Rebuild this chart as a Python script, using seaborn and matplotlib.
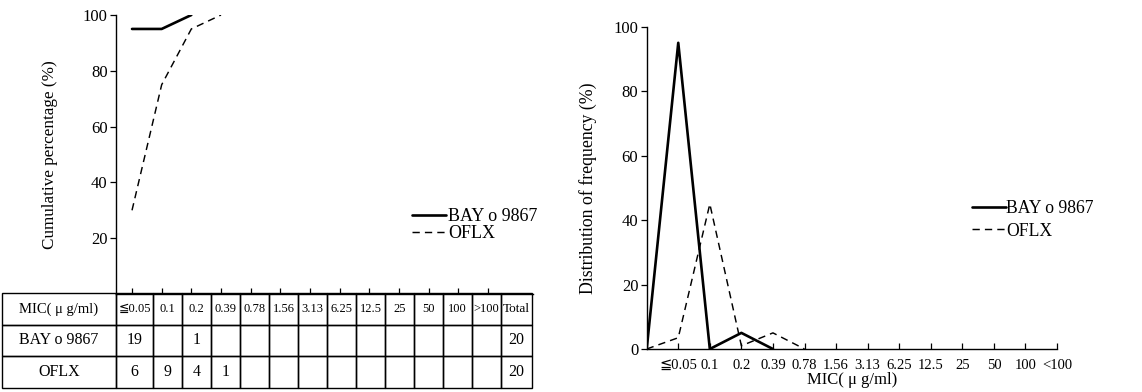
import matplotlib
matplotlib.use("Agg")
import matplotlib.pyplot as plt
import seaborn as sns
import numpy as np
import pandas as pd

sns.set_theme(style="ticks")
plt.rcParams['font.family'] = ['Liberation Serif', 'DejaVu Serif', 'DejaVu Sans']
plt.rcParams['axes.edgecolor'] = 'black'
plt.rcParams['xtick.color'] = 'black'
plt.rcParams['ytick.color'] = 'black'
plt.rcParams['text.color'] = 'black'
plt.rcParams['axes.labelcolor'] = 'black'

# ---- data ----
mic_labels_table = ["≦0.05", "0.1", "0.2", "0.39", "0.78", "1.56", "3.13",
                    "6.25", "12.5", "25", "50", "100", ">100"]
mic_labels_axis = ["≦0.05", "0.1", "0.2", "0.39", "0.78", "1.56", "3.13",
                   "6.25", "12.5", "25", "50", "100", "<100"]
drugs = ["BAY o 9867", "OFLX"]
bay_counts = ["19", "", "1", "", "", "", "", "", "", "", "", "", ""]
oflx_counts = ["6", "9", "4", "1", "", "", "", "", "", "", "", "", ""]
totals = ["20", "20"]

bay_cum = [95, 95, 100]
oflx_cum = [30, 75, 95, 100]

bay_freq = [0, 95, 0, 5, 0]
oflx_freq = [0, 3.5, 45, 1, 5, 0]

W, H = 1142, 392
fig = plt.figure(figsize=(W / 100, H / 100), dpi=100)

def fx(px):
    return px / W

def fy(py):
    return (H - py) / H

solid_kw = dict(color='black', linewidth=1.9)
dash_kw = dict(color='black', linewidth=1.05, linestyle=(0, (5, 3.5)))

# ---------------- left: cumulative ----------------
axL = fig.add_axes([fx(116), fy(294), fx(533) - fx(116), fy(15) - fy(294)])
bay_cum_df = pd.DataFrame({"x": np.arange(len(bay_cum)), "y": bay_cum})
oflx_cum_df = pd.DataFrame({"x": np.arange(len(oflx_cum)), "y": oflx_cum})
sns.lineplot(data=bay_cum_df, x="x", y="y", ax=axL, label=drugs[0], **solid_kw)
sns.lineplot(data=oflx_cum_df, x="x", y="y", ax=axL, label=drugs[1], **dash_kw)
axL.set_xlim(-0.54, 13.52)
axL.set_ylim(0, 100)
axL.set_yticks([20, 40, 60, 80, 100])
axL.set_yticklabels(["20", "40", "60", "80", "100"], fontsize=12)
axL.set_xticks(np.arange(len(mic_labels_table)))
axL.set_xticklabels([])
axL.tick_params(axis='x', direction='in', length=4, width=0.9)
axL.tick_params(axis='y', direction='out', length=4, width=0.9, pad=2)
for s in ['top', 'right']:
    axL.spines[s].set_visible(False)
axL.spines['left'].set_linewidth(1.0)
axL.spines['bottom'].set_linewidth(1.0)
axL.set_xlabel("")
axL.set_ylabel("Cumulative percentage (%)", fontsize=12.3, labelpad=18)
axL.yaxis.label.set_position((0, (fy(155) - fy(294)) / (fy(15) - fy(294))))
legL = axL.legend(loc='center left', bbox_to_anchor=(fx(412), fy(225)),
                  bbox_transform=fig.transFigure, frameon=False, fontsize=13,
                  handlelength=1.9, handletextpad=0.1, labelspacing=0.0,
                  borderpad=0, borderaxespad=0)

# ---------------- table ----------------
axT = fig.add_axes([fx(2), fy(388), fx(532) - fx(2), fy(293) - fy(388)])
axT.axis('off')
col_px = [114, 37] + [29] * 12 + [31]
col_w = [c / sum(col_px) for c in col_px]
cells = [["MIC( μ g/ml)"] + mic_labels_table + ["Total"],
         [drugs[0]] + bay_counts + [totals[0]],
         [drugs[1]] + oflx_counts + [totals[1]]]
tbl = axT.table(cellText=cells, colWidths=col_w, bbox=[0, 0, 1, 1],
                cellLoc='center')
tbl.auto_set_font_size(False)
for (r, c), cell in tbl.get_celld().items():
    cell.set_linewidth(1.0)
    cell.set_edgecolor('black')
    cell.set_facecolor('none')
    txt = cell.get_text()
    if r == 0 and 1 <= c <= 13:
        txt.set_fontsize(9)
    elif r == 0 and c == 0:
        txt.set_fontsize(10.5)
    elif r == 0 and c == 14:
        txt.set_fontsize(9.5)
    else:
        txt.set_fontsize(11.5)

# ---------------- right: frequency ----------------
axR = fig.add_axes([fx(646.7), fy(349), fx(1057) - fx(646.7), fy(26.7) - fy(349)])
bay_f_df = pd.DataFrame({"x": np.arange(len(bay_freq)), "y": bay_freq})
oflx_f_df = pd.DataFrame({"x": np.arange(len(oflx_freq)), "y": oflx_freq})
sns.lineplot(data=bay_f_df, x="x", y="y", ax=axR, label=drugs[0], **solid_kw)
sns.lineplot(data=oflx_f_df, x="x", y="y", ax=axR, label=drugs[1], **dash_kw)
axR.set_xlim(0, 13)
axR.set_ylim(0, 100)
axR.set_yticks([0, 20, 40, 60, 80, 100])
axR.set_yticklabels(["0", "20", "40", "60", "80", "100"], fontsize=12)
axR.set_xticks(np.arange(1, len(mic_labels_axis) + 1))
axR.set_xticklabels(mic_labels_axis, fontsize=10.5)
axR.tick_params(axis='x', direction='in', length=4, width=0.9, pad=7)
axR.tick_params(axis='y', direction='out', length=4, width=0.9, pad=2)
for s in ['top', 'right']:
    axR.spines[s].set_visible(False)
axR.spines['left'].set_linewidth(1.0)
axR.spines['bottom'].set_linewidth(1.0)
axR.set_xlabel("MIC( μ g/ml)", fontsize=12, labelpad=0)
axR.set_ylabel("Distribution of frequency (%)", fontsize=12.8, labelpad=12)
legR = axR.legend(loc='center left', bbox_to_anchor=(fx(972), fy(220)),
                  bbox_transform=fig.transFigure, frameon=False, fontsize=12.7,
                  handlelength=1.9, handletextpad=0.05, labelspacing=0.3,
                  borderpad=0, borderaxespad=0)

fig.savefig("out.png", dpi=100, facecolor='white')
